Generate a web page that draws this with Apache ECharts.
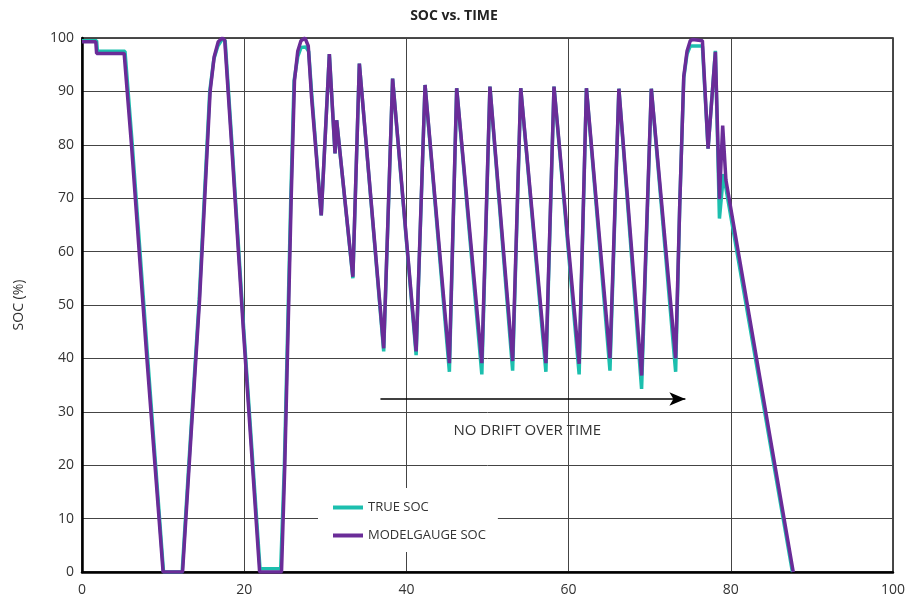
<!DOCTYPE html>
<html>
<head>
<meta charset="utf-8">
<script src="https://cdn.jsdelivr.net/npm/echarts@6/dist/echarts.min.js"></script>
<style>
html,body{margin:0;padding:0;background:#fff;}
#chart{width:908px;height:602px;}
</style>
</head>
<body>
<div id="chart"></div>
<script>
// ---- data ----
const xTicks = [0, 20, 40, 60, 80, 100];
const yTicks = [0, 10, 20, 30, 40, 50, 60, 70, 80, 90, 100];

const trueTime = [0, 1.8, 1.9, 5.3, 6.2, 8.1, 10.05, 12.35, 13.45, 14.45, 15.25, 15.75, 16.25, 16.75, 17.3, 17.65, 18.5, 19.95, 21.95, 24.5, 24.95, 25.45, 25.75, 26.15, 26.6, 27.0, 27.6, 27.95, 28.35, 29.5, 30.5, 31.2, 31.4, 33.4, 34.2, 37.2, 38.3, 41.2, 42.3, 45.3, 46.2, 49.3, 50.3, 53.1, 54.1, 57.2, 58.2, 61.3, 62.2, 65.1, 66.2, 69.0, 70.2, 73.2, 73.7, 74.2, 74.6, 75.0, 76.5, 77.2, 78.1, 78.6, 79.1, 87.6];
const trueSoc  = [99.5, 99.5, 97.5, 97.5, 80, 40, 0, 0, 27, 51, 75, 90, 96, 98.5, 99.8, 99.5, 80, 45.3, 0.6, 0.6, 19.7, 51, 70.3, 92, 96.5, 98.2, 98.3, 97.5, 89, 66.8, 97, 78.4, 84.6, 55, 95.2, 41.3, 92.4, 40.6, 91.2, 37.5, 90.6, 37, 90.9, 37.7, 90.6, 37.5, 90.9, 37, 90.6, 37.7, 90.5, 34.3, 90.5, 37.5, 68.5, 92.5, 97, 98.5, 98.5, 79.3, 97.6, 66.2, 74.5, 0];

const modelTime = [0, 1.7, 1.8, 5.2, 6.1, 8.0, 10.0, 12.4, 13.5, 14.5, 15.3, 15.8, 16.3, 16.8, 17.3, 17.6, 18.45, 19.9, 21.9, 24.6, 25.0, 25.5, 25.8, 26.2, 26.6, 27.0, 27.5, 27.9, 28.3, 29.5, 30.5, 31.2, 31.4, 33.4, 34.2, 37.2, 38.3, 41.2, 42.3, 45.3, 46.2, 49.3, 50.3, 53.1, 54.1, 57.2, 58.2, 61.3, 62.2, 65.1, 66.2, 69.0, 70.2, 73.2, 73.7, 74.2, 74.6, 75.0, 75.3, 76.5, 77.2, 78.1, 78.6, 79.0, 79.4, 87.7];
const modelSoc  = [99.3, 99.3, 97.1, 97.1, 80, 40, 0, 0, 27, 51, 75, 90, 96.5, 99.3, 100, 99.6, 80, 45.3, 0, 0, 19.7, 51, 70.3, 92, 97.5, 99.5, 100, 98.5, 89, 66.8, 97, 78.4, 84.6, 55.3, 95.2, 41.9, 92.4, 41.3, 91.2, 39.1, 90.6, 39.1, 90.9, 39.5, 90.6, 39.1, 90.9, 39, 90.6, 40, 90.5, 36.8, 90.5, 40, 68.5, 92.8, 97.5, 99.5, 99.7, 99.5, 79.3, 97.4, 69.8, 83.6, 73.4, 0];

const arrowStart = [36.8, 32.4];
const arrowEnd = [74.4, 32.4];
const noteAt = [54.9, 26.5];
const noteText = 'NO DRIFT OVER TIME';

// ---- build ----
const pairs = (xs, ys) => xs.map((x, i) => [x, ys[i]]);
const FONT = '"Open Sans", "Lato", sans-serif';
const TEAL = '#1cbfae';
const PURPLE = '#6a2c98';

const chart = echarts.init(document.getElementById('chart'), null, {renderer: 'canvas'});
chart.setOption({
  backgroundColor: '#ffffff',
  animation: false,
  textStyle: {fontFamily: FONT},
  title: {
    text: 'SOC vs. TIME',
    left: 'center',
    top: 4,
    textStyle: {fontSize: 14, fontWeight: 'bold', color: '#222', fontFamily: FONT}
  },
  grid: {
    left: 82, right: 13, top: 38, bottom: 30,
    show: true, borderColor: '#111', borderWidth: 1.5, backgroundColor: 'transparent'
  },
  legend: {
    orient: 'vertical',
    left: 318, top: 488,
    padding: [13, 12, 10, 15],
    itemGap: 15,
    itemWidth: 30, itemHeight: 4,
    icon: 'rect',
    backgroundColor: '#ffffff',
    textStyle: {fontSize: 13, color: '#333', fontFamily: FONT},
    data: ['TRUE SOC', 'MODELGAUGE SOC']
  },
  xAxis: {
    type: 'value', min: 0, max: 100, interval: 20,
    axisLine: {show: true, lineStyle: {color: '#000', width: 2.5}},
    axisTick: {show: false},
    axisLabel: {color: '#333', fontSize: 14, margin: 11, fontFamily: FONT,
      customValues: xTicks},
    splitLine: {show: true, lineStyle: {color: '#444', width: 1}}
  },
  yAxis: {
    type: 'value', min: 0, max: 100, interval: 10,
    name: 'SOC (%)', nameLocation: 'middle', nameGap: 56,
    nameTextStyle: {fontSize: 14, color: '#333', fontFamily: FONT},
    axisLine: {show: true, lineStyle: {color: '#000', width: 2.5}},
    axisTick: {show: false},
    axisLabel: {color: '#333', fontSize: 14, margin: 8, fontFamily: FONT},
    splitLine: {show: true, lineStyle: {color: '#444', width: 1}}
  },
  series: [
    {
      name: 'TRUE SOC', type: 'line', data: pairs(trueTime, trueSoc),
      showSymbol: false, symbol: 'none', clip: true,
      lineStyle: {color: TEAL, width: 3.5}, itemStyle: {color: TEAL},
      z: 3,
      markLine: {
        silent: true, symbol: ['none', 'arrow'], symbolSize: [10, 16],
        lineStyle: {color: '#000', width: 1.5, type: 'solid'},
        label: {show: false},
        data: [[{coord: arrowStart}, {coord: arrowEnd}]]
      },
      markPoint: {
        silent: true, symbol: 'circle', symbolSize: 0,
        label: {show: true, formatter: noteText, color: '#333', fontSize: 15, fontFamily: FONT, position: 'inside'},
        data: [{coord: noteAt}]
      }
    },
    {
      name: 'MODELGAUGE SOC', type: 'line', data: pairs(modelTime, modelSoc),
      showSymbol: false, symbol: 'none', clip: true,
      lineStyle: {color: PURPLE, width: 3.5}, itemStyle: {color: PURPLE},
      z: 4
    }
  ]
});
</script>
</body>
</html>
